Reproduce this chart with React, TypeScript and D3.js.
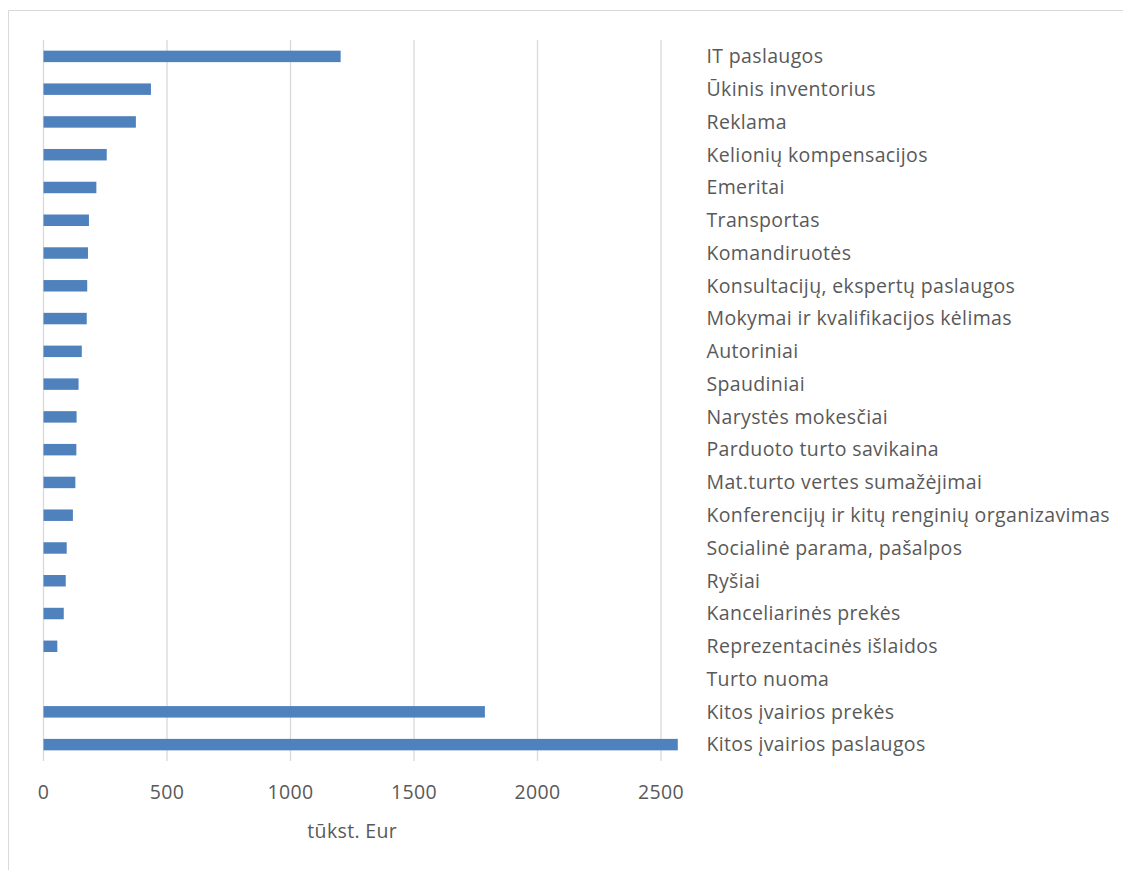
import React from "react";
import * as d3 from "d3";

const categories: string[] = [
  "IT paslaugos",
  "Ūkinis inventorius",
  "Reklama",
  "Kelionių kompensacijos",
  "Emeritai",
  "Transportas",
  "Komandiruotės",
  "Konsultacijų, ekspertų paslaugos",
  "Mokymai ir kvalifikacijos kėlimas",
  "Autoriniai",
  "Spaudiniai",
  "Narystės mokesčiai",
  "Parduoto turto savikaina",
  "Mat.turto vertes sumažėjimai",
  "Konferencijų ir kitų renginių organizavimas",
  "Socialinė parama, pašalpos",
  "Ryšiai",
  "Kanceliarinės prekės",
  "Reprezentacinės išlaidos",
  "Turto nuoma",
  "Kitos įvairios prekės",
  "Kitos įvairios paslaugos",
];

const values: number[] = [
  1203, 435, 374, 256, 214, 184, 180, 177, 175, 155, 142, 134, 133, 129, 119,
  94, 90, 82, 56, 0, 1787, 2568,
];

const xTicks: number[] = [0, 500, 1000, 1500, 2000, 2500];
const axisTitle = "tūkst. Eur";

const W = 1123;
const H = 862;
const FONT = "'Open Sans', sans-serif";
const FS = 19.5;
const LS = 0.35;
const TEXT = "#595959";
const GRID = "#d9d9d9";
const BAR = "#4f81bd";

export default function App() {
  const off = 8;
  const x = d3.scaleLinear().domain([0, 2500]).range([43.5, 661]);
  const y = d3
    .scaleBand<string>()
    .domain(categories)
    .range([40, 761])
    .paddingInner(0.65)
    .paddingOuter(0.325);

  return (
    <svg width={W} height={H} style={{ display: "block" }}>
      <g transform={`translate(${-off},${-off})`}>
        <rect x={0} y={0} width={1140} height={880} fill="#ffffff" />
        <line x1={8.5} x2={1140} y1={10.5} y2={10.5} stroke={GRID} strokeWidth={1} />
        <line x1={8.5} x2={8.5} y1={10.5} y2={880} stroke={GRID} strokeWidth={1} />
        {xTicks.map((t) => (
          <line
            key={"g" + t}
            x1={x(t)}
            x2={x(t)}
            y1={40}
            y2={761}
            stroke={GRID}
            strokeWidth={1.3}
          />
        ))}
        {categories.map((c, i) => (
          <rect
            key={"b" + c}
            x={x(0)}
            y={y(c)!}
            width={Math.max(0, x(values[i]) - x(0))}
            height={y.bandwidth()}
            fill={BAR}
          />
        ))}
        {categories.map((c) => (
          <text
            key={"l" + c}
            x={706.5}
            y={y(c)! + y.bandwidth() / 2}
            dy="0.35em"
            fontFamily={FONT}
            fontSize={FS}
            letterSpacing={LS}
            fill={TEXT}
          >
            {c}
          </text>
        ))}
        {xTicks.map((t) => (
          <text
            key={"t" + t}
            x={x(t)}
            y={792.5}
            dy="0.35em"
            textAnchor="middle"
            fontFamily={FONT}
            fontSize={FS}
            letterSpacing={LS}
            fill={TEXT}
          >
            {t}
          </text>
        ))}
        <text
          x={(x(0) + x(2500)) / 2}
          y={831}
          dy="0.35em"
          textAnchor="middle"
          fontFamily={FONT}
          fontSize={FS}
          letterSpacing={LS}
          fill={TEXT}
        >
          {axisTitle}
        </text>
      </g>
    </svg>
  );
}
